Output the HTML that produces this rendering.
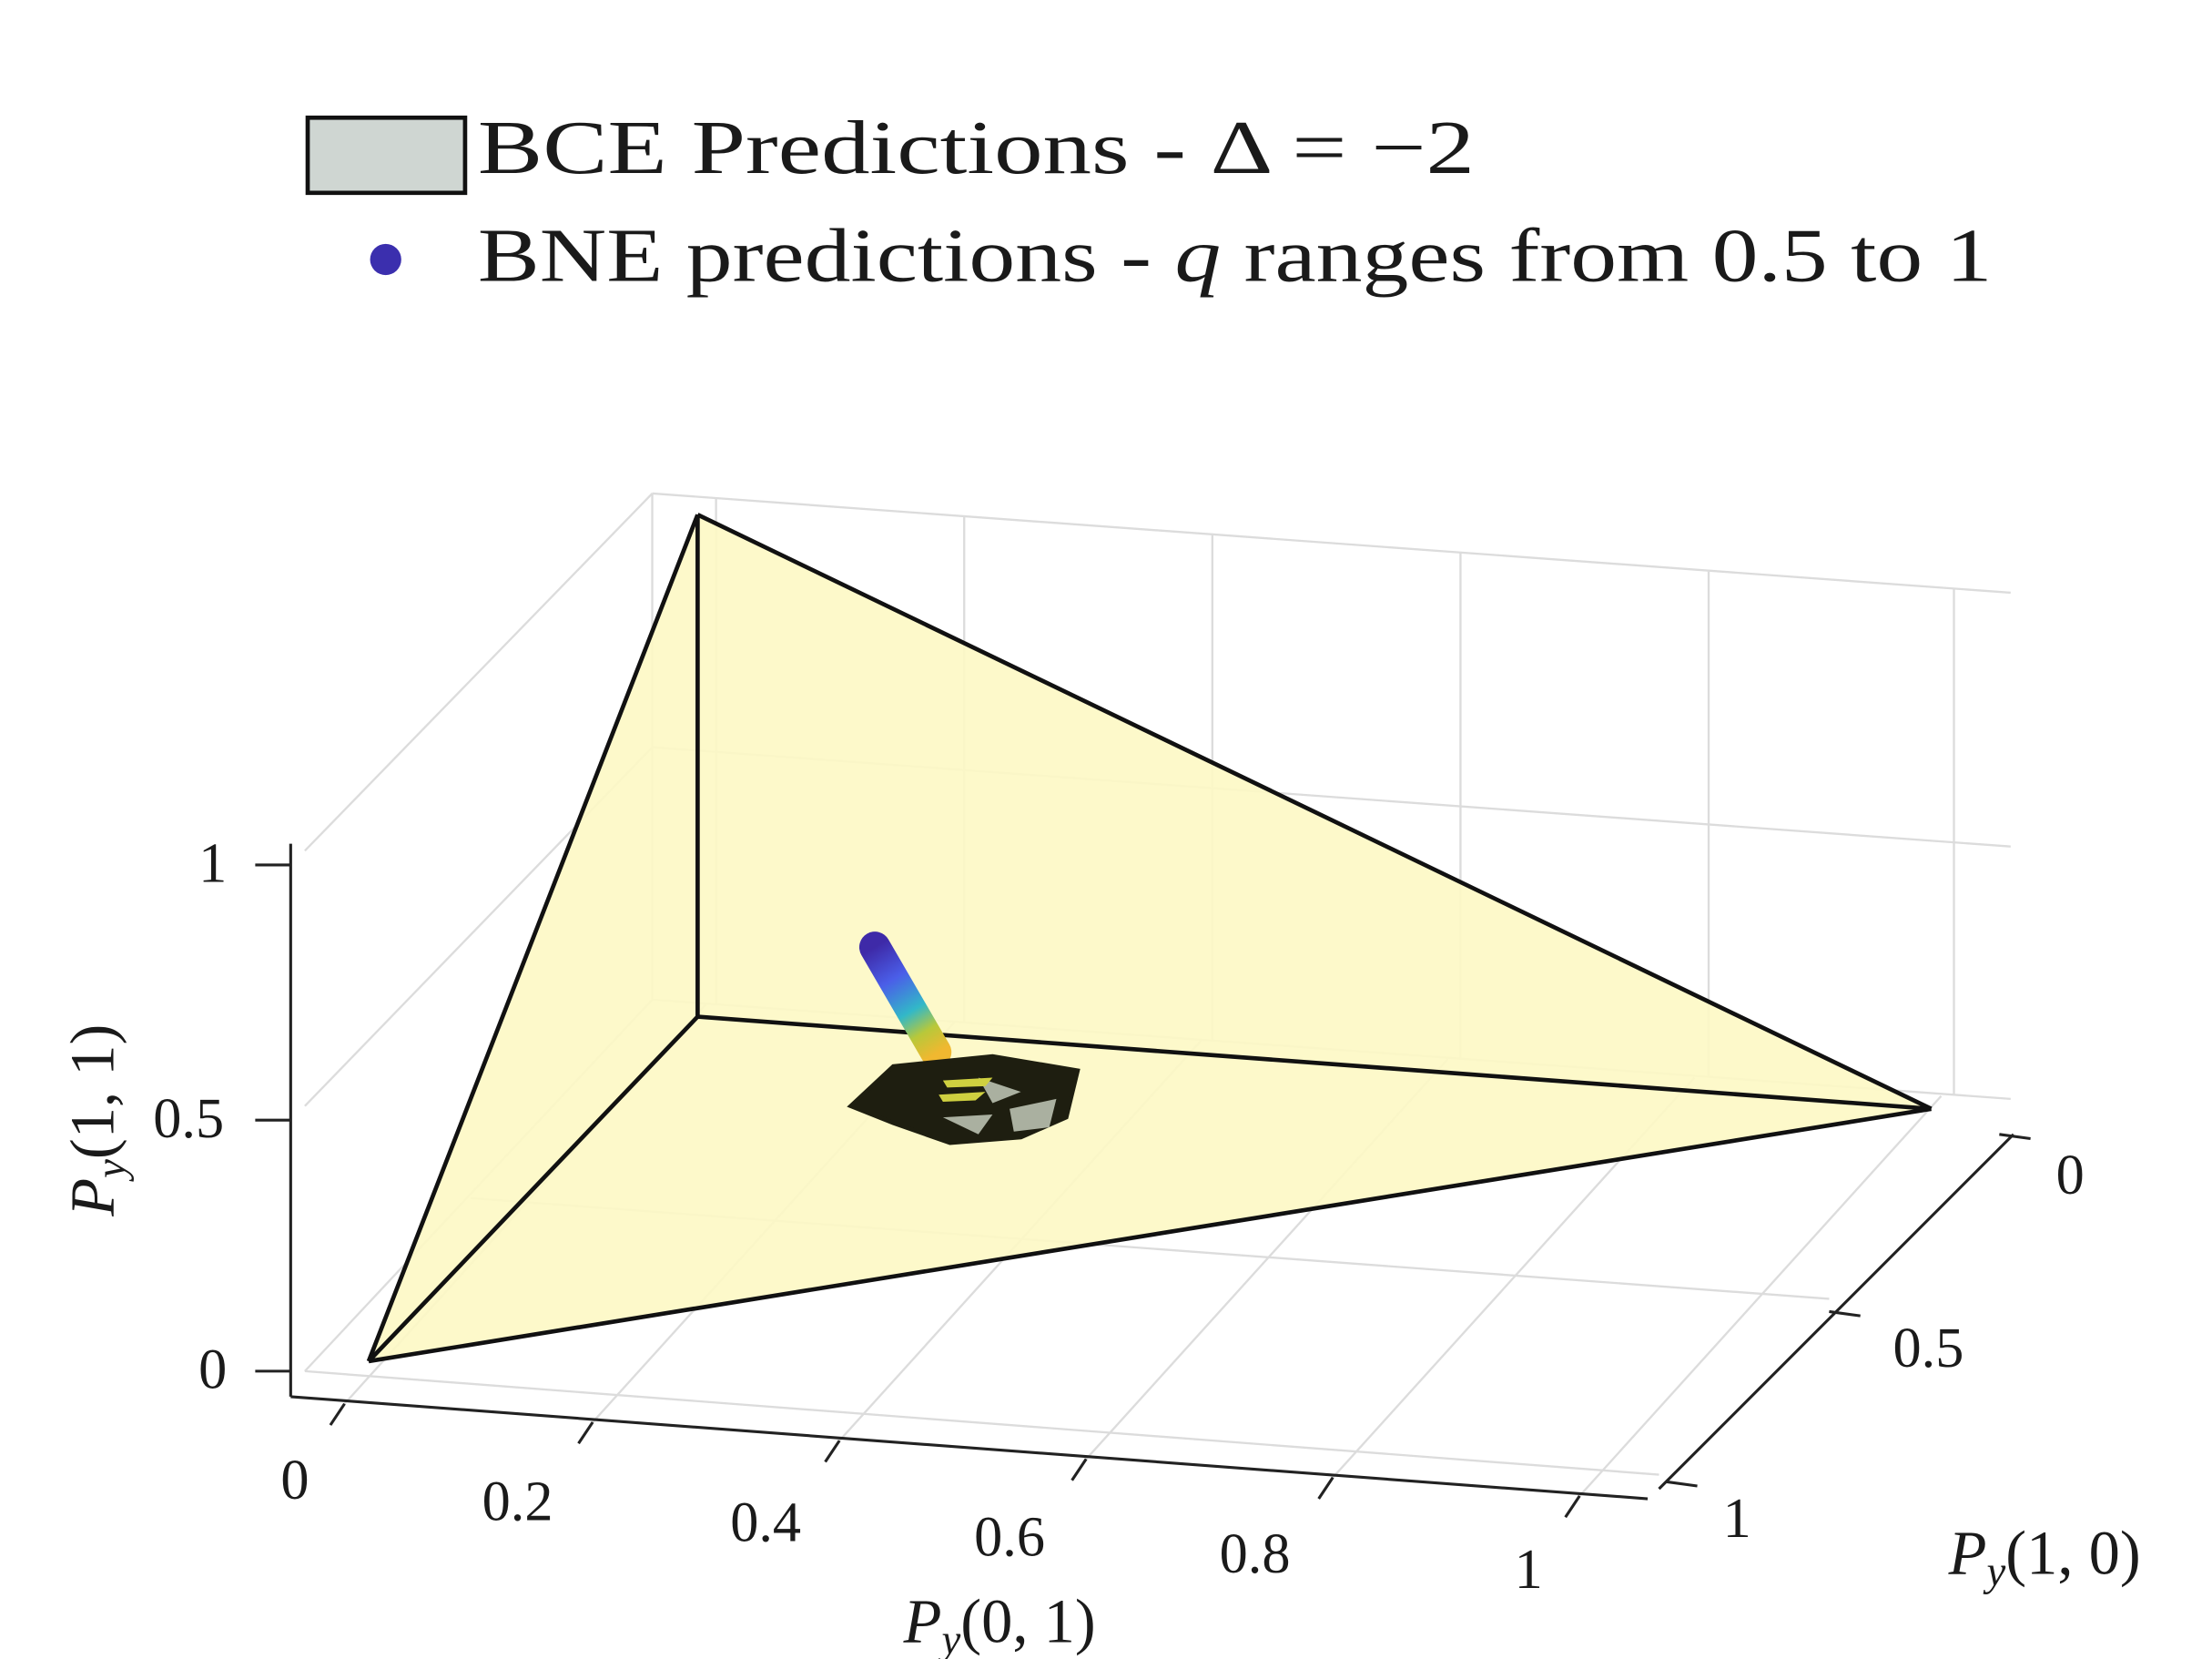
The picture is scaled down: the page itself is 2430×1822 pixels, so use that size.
<!DOCTYPE html>
<html><head><meta charset="utf-8"><style>
html,body{margin:0;padding:0;background:#fff;}
svg{display:block;}
text{font-family:"Liberation Serif","DejaVu Serif",serif;fill:#1a1a1a;}
</style></head><body>
<svg width="2430" height="1822" viewBox="0 0 1560 1170" preserveAspectRatio="none" xmlns="http://www.w3.org/2000/svg">
<defs>
<linearGradient id="tube" x1="617" y1="668" x2="662" y2="742" gradientUnits="userSpaceOnUse">
<stop offset="0" stop-color="#3e2aa8"/><stop offset="0.3" stop-color="#4a5ee8"/><stop offset="0.6" stop-color="#32b8c8"/><stop offset="0.8" stop-color="#b8c83a"/><stop offset="1" stop-color="#f0b830"/>
</linearGradient>
</defs>
<rect width="1560" height="1170" fill="#fff"/>
<!-- legend -->
<rect x="217" y="83" width="111" height="53" fill="#cfd6d2" stroke="#111" stroke-width="3"/>
<text x="337" y="122" font-size="54" textLength="703" lengthAdjust="spacingAndGlyphs">BCE Predictions - Δ = −2</text>
<circle cx="272" cy="183" r="11" fill="#3b2fae"/>
<text x="337" y="198" font-size="54" textLength="1068" lengthAdjust="spacingAndGlyphs">BNE predictions - <tspan font-style="italic">q</tspan> ranges from 0.5 to 1</text>
<!-- grid -->
<g stroke="#dcdcdc" stroke-width="1.5" fill="none">
<line x1="460" y1="348" x2="1418" y2="418"/>
<line x1="460" y1="527" x2="1418" y2="597"/>
<line x1="460" y1="705" x2="1418" y2="775"/>
<line x1="460" y1="348" x2="460" y2="705"/>
<line x1="215" y1="600" x2="460" y2="348"/>
<line x1="215" y1="780" x2="460" y2="527"/>
<line x1="215" y1="967" x2="460" y2="705"/>
<line x1="505" y1="351" x2="505" y2="708"/>
<line x1="680" y1="364" x2="680" y2="721"/>
<line x1="855" y1="377" x2="855" y2="734"/>
<line x1="1030" y1="390" x2="1030" y2="747"/>
<line x1="1205" y1="403" x2="1205" y2="760"/>
<line x1="1378" y1="415" x2="1378" y2="772"/>
<line x1="243" y1="990" x2="498" y2="708"/>
<line x1="418" y1="1003" x2="673" y2="721"/>
<line x1="592" y1="1016" x2="847" y2="734"/>
<line x1="766" y1="1029" x2="1021" y2="747"/>
<line x1="940" y1="1042" x2="1195" y2="760"/>
<line x1="1114" y1="1055" x2="1369" y2="773"/>
<line x1="332" y1="845" x2="1290" y2="916"/>
<line x1="215" y1="967" x2="1170" y2="1040"/>
</g>
<!-- triangle faces -->
<polygon points="492,363 260,960 1362,782" fill="#fdf8c4" opacity="0.9"/>
<g stroke="#111" stroke-width="3" fill="none" stroke-linejoin="round">
<line x1="492" y1="363" x2="260" y2="960"/>
<line x1="492" y1="363" x2="1362" y2="782"/>
<line x1="260" y1="960" x2="1362" y2="782"/>
<line x1="492" y1="363" x2="492" y2="717"/>
<line x1="492" y1="717" x2="260" y2="960"/>
<line x1="492" y1="717" x2="1362" y2="782"/>
</g>
<!-- tube -->
<line x1="617" y1="668" x2="660" y2="742" stroke="url(#tube)" stroke-width="22" stroke-linecap="round"/>
<!-- blob -->
<path d="M600,780 L630,752 L700,745 L760,755 L752,788 L720,802 L670,806 L630,792 Z" fill="#1e1e10" stroke="#1e1e10" stroke-width="3"/>
<path d="M690,760 L720,770 L700,778 Z M712,782 L745,775 L740,795 L715,798 Z M665,788 L700,786 L690,800 Z" fill="#aab0a0"/>
<path d="M665,762 L700,760 L695,766 L668,767 Z M662,772 L695,770 L688,776 L665,777 Z" fill="#cfd040"/>
<!-- axes -->
<g stroke="#222" stroke-width="2" fill="none">
<line x1="205" y1="595" x2="205" y2="985"/>
<line x1="205" y1="985" x2="1162" y2="1057"/>
<line x1="1170" y1="1050" x2="1420" y2="800"/>
<line x1="180" y1="610" x2="205" y2="610"/>
<line x1="180" y1="790" x2="205" y2="790"/>
<line x1="180" y1="967" x2="205" y2="967"/>
<line x1="243" y1="990" x2="233" y2="1005"/>
<line x1="418" y1="1003" x2="408" y2="1018"/>
<line x1="592" y1="1016" x2="582" y2="1031"/>
<line x1="766" y1="1029" x2="756" y2="1044"/>
<line x1="940" y1="1042" x2="930" y2="1057"/>
<line x1="1114" y1="1055" x2="1104" y2="1070"/>
<line x1="1410" y1="800" x2="1432" y2="803"/>
<line x1="1290" y1="925" x2="1312" y2="928"/>
<line x1="1175" y1="1045" x2="1197" y2="1048"/>
</g>
<g font-size="40" text-anchor="middle">
<text x="150" y="622">1</text>
<text x="133" y="802">0.5</text>
<text x="150" y="979">0</text>
<text x="208" y="1057">0</text>
<text x="365" y="1072">0.2</text>
<text x="540" y="1087">0.4</text>
<text x="712" y="1097">0.6</text>
<text x="885" y="1109">0.8</text>
<text x="1078" y="1120">1</text>
<text x="1460" y="842">0</text>
<text x="1360" y="964">0.5</text>
<text x="1225" y="1084">1</text>
</g>
<g font-size="44">
<text x="705" y="1158" text-anchor="middle"><tspan font-style="italic">P</tspan><tspan font-style="italic" font-size="30" dy="8">y</tspan><tspan dy="-8">(0, 1)</tspan></text>
<text x="1442" y="1110" text-anchor="middle"><tspan font-style="italic">P</tspan><tspan font-style="italic" font-size="30" dy="8">y</tspan><tspan dy="-8">(1, 0)</tspan></text>
<text transform="translate(80,790) rotate(-90)" text-anchor="middle"><tspan font-style="italic">P</tspan><tspan font-style="italic" font-size="30" dy="8">y</tspan><tspan dy="-8">(1, 1)</tspan></text>
</g>
</svg>
</body></html>
